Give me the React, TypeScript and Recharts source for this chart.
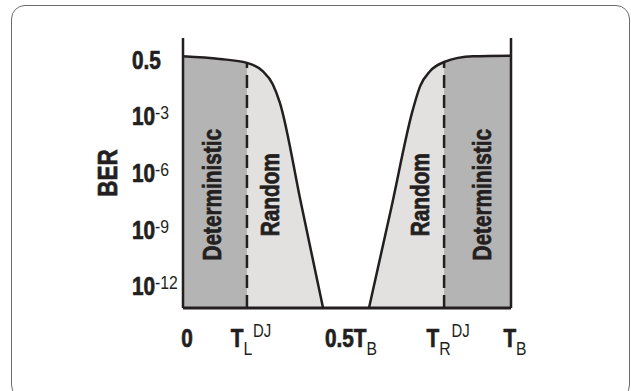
import React from 'react';
import {
  ComposedChart,
  Area,
  Line,
  XAxis,
  YAxis,
  ReferenceLine,
  ReferenceDot,
} from 'recharts';

// bathtub curve, x in unit intervals (0..T_B), y in decades of BER (0 = the 0.5 level)
const xPos = [0, 0.112, 0.195, 0.243, 0.274, 0.295, 0.36, 0.427, 0.5, 0.567, 0.635, 0.701, 0.723, 0.753, 0.796, 0.884, 1];
const berLog = [0.23, 0.09, -0.12, -0.56, -1.26, -2.21, -7.57, -13.1, null, -13.1, -7.8, -2.58, -1.35, -0.56, -0.07, 0.23, 0.26];

const TL = 0.195;
const TR = 0.796;
const BOTTOM = -13.1;
const TOP = 1.2;

const xTicks = [0, TL, 0.5, TR, 1];
const xTickLabels = [
  { main: '0' },
  { main: 'T', sub: 'L', sup: 'DJ' },
  { main: '0.5T', sub: 'B' },
  { main: 'T', sub: 'R', sup: 'DJ' },
  { main: 'T', sub: 'B' },
];

const yTicks = [0, -3, -6, -9, -12];
const yTickLabels = [
  { base: '0.5' },
  { base: '10', exp: '-3' },
  { base: '10', exp: '-6' },
  { base: '10', exp: '-9' },
  { base: '10', exp: '-12' },
];

const regionNames = ['Deterministic', 'Random', 'Random', 'Deterministic'];
const regionX = [0.088, 0.265, 0.723, 0.912];
const REGION_Y = -7.1;

const data = xPos.map((x, i) => {
  const v = berLog[i];
  const inDet = v !== null && (x <= TL || x >= TR);
  return { x, ber: v, det: inDet ? v : null };
});

// condensed heavy look: Liberation Sans bold squeezed horizontally + thin outline
const FONT = "'Liberation Sans', Arial, sans-serif";
const SQUEEZE = 0.83;
const INK = '#231f20';
const DARK = '#b4b4b4';
const LIGHT = '#e3e0e0';

const XTick = (props: any) => {
  const { x, y, index } = props;
  const lab = xTickLabels[index];
  if (!lab) return null;
  return (
    <g transform={`translate(${x + 4} ${y + 31}) scale(${SQUEEZE} 1)`}>
      <text x={0} y={0} textAnchor="middle" fontFamily={FONT} fill={INK}>
        <tspan fontSize={25} fontWeight="bold" stroke={INK} strokeWidth={0.7}>{lab.main}</tspan>
        {lab.sub && (
          <tspan fontSize={19} dy={8}>{lab.sub}</tspan>
        )}
        {lab.sup && (
          <tspan fontSize={18} dx={1} dy={-18}>{lab.sup}</tspan>
        )}
      </text>
    </g>
  );
};

const YTick = (props: any) => {
  const { y, index } = props;
  const lab = yTickLabels[index];
  if (!lab) return null;
  return (
    <g transform={`translate(132 ${y + 8}) scale(${SQUEEZE} 1)`}>
      <text x={0} y={0} textAnchor="start" fontFamily={FONT} fill={INK}>
        <tspan fontSize={25} fontWeight="bold" stroke={INK} strokeWidth={0.7}>{lab.base}</tspan>
        {lab.exp && (
          <tspan fontSize={19} dy={-6}>{lab.exp}</tspan>
        )}
      </text>
    </g>
  );
};

const verticalText = (text: string, cx: number, cy: number, size: number) => (
  <g transform={`translate(${cx} ${cy}) rotate(-90) scale(${SQUEEZE} 1)`}>
    <text
      x={0}
      y={0}
      textAnchor="middle"
      dominantBaseline="central"
      fontFamily={FONT}
      fontWeight="bold"
      fontSize={size}
      fill={INK}
      stroke={INK}
      strokeWidth={0.7}
    >
      {text}
    </text>
  </g>
);

export default function App() {
  return (
    <div style={{ position: 'absolute', left: 0, top: 0, width: 631, height: 391, overflow: 'hidden', background: '#fff' }}>
      <div
        style={{
          position: 'absolute',
          left: 11,
          top: 5,
          width: 617,
          height: 392,
          border: '1.5px solid #6b6b6b',
          borderRadius: 14,
        }}
      />
      <div style={{ position: 'absolute', left: 0, top: 0 }}>
        <ComposedChart
          width={631}
          height={391}
          data={data}
          margin={{ top: 38, right: 120, bottom: 0, left: 0 }}
        >
          <XAxis
            type="number"
            dataKey="x"
            domain={[0, 1]}
            ticks={xTicks}
            allowDataOverflow
            tickLine={false}
            axisLine={{ stroke: INK, strokeWidth: 3 }}
            height={83}
            tick={<XTick />}
            interval={0}
          />
          <YAxis
            type="number"
            domain={[BOTTOM, TOP]}
            ticks={yTicks}
            allowDataOverflow
            tickLine={false}
            axisLine={{ stroke: INK, strokeWidth: 2.5 }}
            width={183}
            tick={<YTick />}
            interval={0}
            label={{
              content: (p: any) => {
                const vb = p.viewBox;
                return verticalText('BER', vb.x + vb.width - 75, vb.y + vb.height / 2, 27);
              },
            }}
          />
          <Area
            type="monotone"
            dataKey="ber"
            baseValue={BOTTOM}
            fill={LIGHT}
            fillOpacity={1}
            stroke="none"
            isAnimationActive={false}
            dot={false}
            activeDot={false}
          />
          <Area
            type="monotone"
            dataKey="det"
            baseValue={BOTTOM}
            fill={DARK}
            fillOpacity={1}
            stroke="none"
            isAnimationActive={false}
            dot={false}
            activeDot={false}
          />
          <ReferenceLine
            segment={[{ x: TL, y: BOTTOM }, { x: TL, y: berLog[2] as number }]}
            stroke={INK}
            strokeWidth={2.5}
            strokeDasharray="13 7"
          />
          <ReferenceLine
            segment={[{ x: TR, y: BOTTOM }, { x: TR, y: berLog[14] as number }]}
            stroke={INK}
            strokeWidth={2.5}
            strokeDasharray="13 7"
          />
          <ReferenceLine x={1} stroke={INK} strokeWidth={2.5} />
          <Line
            type="monotone"
            dataKey="ber"
            stroke={INK}
            strokeWidth={2.5}
            dot={false}
            activeDot={false}
            isAnimationActive={false}
          />
          {regionNames.map((name, i) => (
            <ReferenceDot
              key={i}
              x={regionX[i]}
              y={REGION_Y}
              r={0}
              shape={(p: any) => verticalText(name, p.cx, p.cy, 25)}
            />
          ))}
        </ComposedChart>
      </div>
    </div>
  );
}
